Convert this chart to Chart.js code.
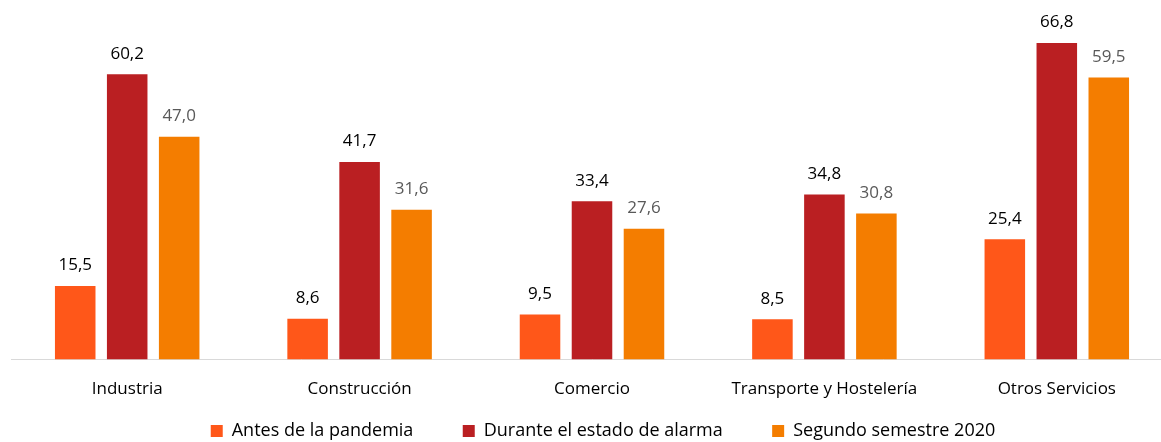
<!DOCTYPE html>
<html>
<head>
<meta charset="utf-8">
<script src="https://cdn.jsdelivr.net/npm/chart.js@4"></script>
<style>
  html, body { margin: 0; padding: 0; background: #fff; overflow: hidden; width: 1161px; height: 442px; }
  #wrap { position: absolute; left: 11px; top: 0; width: 1184px; height: 450px; }
</style>
</head>
<body>
<div id="wrap"><canvas id="chart"></canvas></div>
<script>
const categories = ['Industria', 'Construcción', 'Comercio', 'Transporte y Hostelería', 'Otros Servicios'];
const seriesNames = ['Antes de la pandemia', 'Durante el estado de alarma', 'Segundo semestre 2020'];
const antes = [15.5, 8.6, 9.5, 8.5, 25.4];
const durante = [60.2, 41.7, 33.4, 34.8, 66.8];
const segundo = [47.0, 31.6, 27.6, 30.8, 59.5];

const colors = ['#FF5719', '#BA1F22', '#F47D00'];
const labelColors = ['#000000', '#000000', '#595959'];
const FONT = '"Open Sans", Lato, sans-serif';

// draws value on top of each bar (comma decimal)
const valueLabels = {
    id: 'valueLabels',
    afterDatasetsDraw(chart) {
        const ctx = chart.ctx;
        ctx.save();
        ctx.font = '17px ' + FONT;
        ctx.textAlign = 'center';
        ctx.textBaseline = 'bottom';
        chart.data.datasets.forEach((ds, i) => {
            const meta = chart.getDatasetMeta(i);
            ctx.fillStyle = labelColors[i];
            meta.data.forEach((bar, j) => {
                const txt = ds.data[j].toFixed(1).replace('.', ',');
                ctx.fillText(txt, bar.x, bar.y - 12);
            });
        });
        ctx.restore();
    }
};

// legend in the original sits a bit right of the plot centre
const legendShift = {
    id: 'legendShift',
    afterLayout(chart) {
        chart.legend.left += 11;
        chart.legend.right += 11;
    }
};

const ctx = document.getElementById('chart').getContext('2d');
new Chart(ctx, {
    type: 'bar',
    data: {
        labels: categories,
        datasets: [antes, durante, segundo].map((d, i) => ({
            label: seriesNames[i],
            data: d,
            backgroundColor: colors[i],
            borderWidth: 0,
            categoryPercentage: 0.671,
            barPercentage: 0.78
        }))
    },
    options: {
        responsive: true,
        maintainAspectRatio: false,
        animation: false,
        layout: { padding: { top: 4, left: 0, right: 22, bottom: 0 } },
        plugins: {
            tooltip: { enabled: false },
            legend: {
                position: 'bottom',
                labels: {
                    boxWidth: 12,
                    boxHeight: 12,
                    padding: 12,
                    color: '#000',
                    font: { family: FONT, size: 18 },
                    generateLabels(chart) {
                        const items = Chart.defaults.plugins.legend.labels.generateLabels(chart);
                        items.forEach((it, i) => {
                            if (i < items.length - 1) it.text += '\u00a0'.repeat(8);
                        });
                        return items;
                    }
                }
            }
        },
        scales: {
            x: {
                grid: { display: false },
                border: { display: true, color: '#D9D9D9', width: 1 },
                ticks: {
                    color: '#000',
                    padding: 11,
                    font: { family: FONT, size: 17 }
                }
            },
            y: {
                display: false,
                min: 0,
                max: 75
            }
        }
    },
    plugins: [valueLabels, legendShift]
});
</script>
</body>
</html>
